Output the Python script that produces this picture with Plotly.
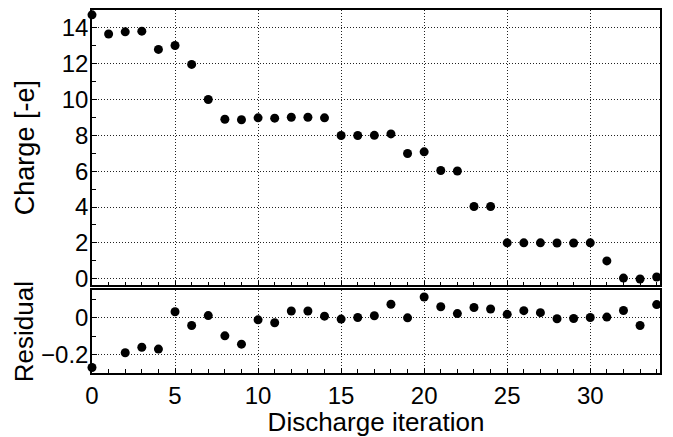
import plotly.graph_objects as go

# ---- data ----
iteration = list(range(35))
charge = [14.73, 13.66, 13.78, 13.82, 12.80, 13.02, 11.96, 10.00, 8.90, 8.87,
          8.98, 8.96, 9.01, 9.01, 8.98, 7.99, 7.99, 8.00, 8.08, 6.99,
          7.08, 6.04, 6.01, 4.03, 4.03, 2.00, 2.00, 2.00, 1.99, 1.99,
          2.00, 0.99, 0.03, -0.02, 0.09]
residual = [-0.270, None, -0.190, -0.160, -0.170, 0.033, -0.042, 0.012, -0.098, -0.143,
            -0.011, -0.027, 0.037, 0.037, 0.009, -0.007, 0.002, 0.011, 0.074, 0.000,
            0.113, 0.060, 0.023, 0.056, 0.048, 0.019, 0.039, 0.028, -0.005, -0.004,
            0.002, 0.004, 0.040, -0.042, 0.072]
x_tickvals = [0, 5, 10, 15, 20, 25, 30]
charge_tickvals = [0, 2, 4, 6, 8, 10, 12, 14]
residual_tickvals = [-0.2, 0]

FONT = "Liberation Sans, Arial, sans-serif"
marker = dict(color="black", size=9)

fig = go.Figure()
fig.add_trace(go.Scatter(x=iteration, y=charge, mode="markers", marker=marker,
                         xaxis="x2", yaxis="y", cliponaxis=False, showlegend=False))
fig.add_trace(go.Scatter(x=iteration, y=residual, mode="markers", marker=marker,
                         xaxis="x", yaxis="y2", cliponaxis=False, showlegend=False))

axis_common = dict(showline=True, linecolor="black", linewidth=1.5, mirror=True,
                   showgrid=True, gridcolor="#222", gridwidth=1, griddash="1px,2px",
                   zeroline=False, ticks="inside", ticklen=5, tickcolor="black",
                   tickfont=dict(size=24, color="black", family=FONT))

fig.update_layout(
    width=673, height=437,
    margin=dict(l=92, r=13, t=8, b=58),
    paper_bgcolor="white", plot_bgcolor="white",
    font=dict(family=FONT, color="black"),
    xaxis=dict(axis_common, domain=[0, 1], range=[0, 34.2], anchor="y2",
               tickvals=x_tickvals,
               minor=dict(ticks="inside", dtick=1, tick0=0, ticklen=4, tickcolor="black", showgrid=False),
               title=dict(text="Discharge iteration", font=dict(size=26, family=FONT), standoff=2)),
    xaxis2=dict(axis_common, domain=[0, 1], range=[0, 34.2], anchor="y", matches="x",
                tickvals=x_tickvals, showticklabels=False,
                minor=dict(ticks="inside", dtick=1, tick0=0, ticklen=4, tickcolor="black", showgrid=False)),
    yaxis=dict(axis_common, domain=[0.2417, 1], range=[-0.37, 15.0], anchor="x2",
               tickvals=charge_tickvals, ticklabelstandoff=-3,
               minor=dict(ticks="inside", dtick=1, tick0=0, ticklen=4, tickcolor="black", showgrid=False),
               title=dict(text="Charge [-e]", font=dict(size=27, family=FONT), standoff=19)),
    yaxis2=dict(axis_common, domain=[0, 0.228], range=[-0.3, 0.15], anchor="x",
                tickvals=residual_tickvals, ticklabelstandoff=-3,
                minor=dict(ticks="inside", dtick=0.1, tick0=0, ticklen=4, tickcolor="black", showgrid=False),
                title=dict(text="Residual", font=dict(size=26, family=FONT), standoff=0)),
)

fig.write_html("out.html", config={"displayModeBar": False},
               post_script="document.body.style.margin='0';")
